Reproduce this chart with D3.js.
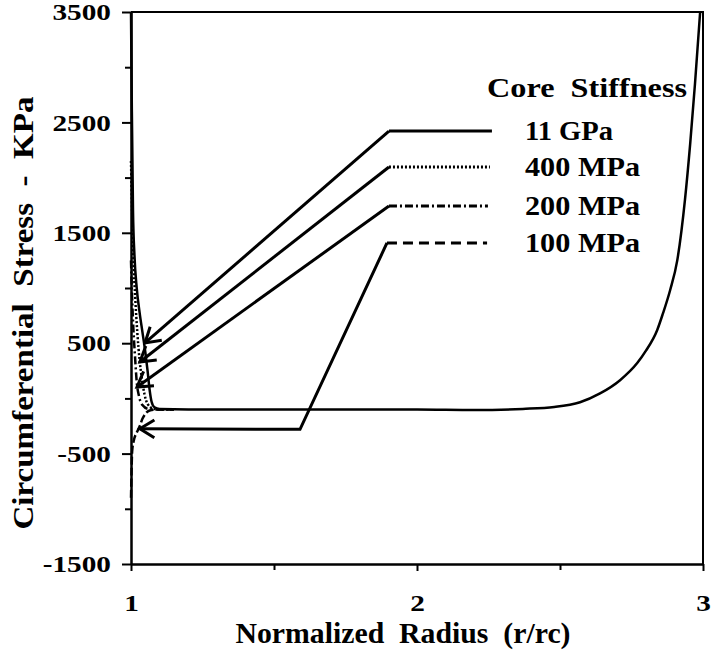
<html>
    <head>
        <meta charset="utf-8">
        <script src="https://d3js.org/d3.v7.min.js"></script>
        <style>
            body { margin: 0; background: #fff; }
            .axis path, .axis line { stroke: #000; stroke-width: 2px; }
            .curve { fill: none; stroke: #000; stroke-width: 2.5px; stroke-linejoin: round; }
            .leader { fill: none; stroke: #000; stroke-width: 3px; }
        </style>
    </head>
    <body>
        <script>
            // tick values
            var xMajor = [1, 2, 3],
                xMinor = [1.5, 2.5],
                yMajor = [3500, 2500, 1500, 500, -500, -1500],
                yMinor = [3000, 2000, 1000, 0, -1000];

            // legend
            var stiffness = ["11 GPa", "400 MPa", "200 MPa", "100 MPa"];
            var dashes = [null, "2,2", "8,3,2,3", "10,6"];

            // stress curves [r/rc, kPa]
            var curve11GPa = [[1.000,3500],[1.003,2600],[1.007,1700],[1.012,1300],[1.02,1000],[1.03,780],
                [1.04,600],[1.05,420],[1.058,250],[1.065,80],[1.072,-30],[1.082,-80],[1.1,-95],[1.3,-100],
                [1.6,-100],[2.0,-100],[2.2,-105],[2.37,-95],[2.48,-78],[2.57,-35],[2.64,45],[2.71,165],
                [2.77,320],[2.8,430],[2.84,620],[2.86,770],[2.885,980],[2.91,1250],[2.937,1800],
                [2.955,2300],[2.972,2850],[2.99,3500]];
            var curve400MPa = [[1.0,2150],[1.004,1700],[1.008,1300],[1.015,900],[1.022,600],[1.03,350],
                [1.038,180],[1.047,40],[1.058,-50],[1.075,-90],[1.1,-100],[1.15,-100]];
            var curve200MPa = [[1.0,1250],[1.004,900],[1.008,650],[1.014,380],[1.02,150],[1.028,20],
                [1.04,-60],[1.06,-95],[1.09,-100],[1.15,-100]];
            var curve100MPa = [[1.0,-900],[1.002,-650],[1.004,-480],[1.01,-380],[1.02,-310],[1.03,-255],
                [1.04,-185],[1.05,-140],[1.065,-110],[1.09,-100],[1.15,-100]];

            // legend leaders: horizontal key segment, then line to arrow tip
            var keySegs = [
                [[1.902,2422],[2.262,2422]],
                [[1.902,2096],[2.255,2096]],
                [[1.902,1743],[2.248,1743]],
                [[1.895,1408],[2.245,1408]]
            ];
            var leaders = [
                [[1.902,2422],[1.049,502]],
                [[1.902,2096],[1.031,330]],
                [[1.902,1743],[1.021,103]],
                [[1.895,1408],[1.591,-280],[1.031,-275]]
            ];

            var width = 712, height = 660;
            var x = d3.scaleLinear().domain([1, 3]).range([131, 703]);
            var y = d3.scaleLinear().domain([-1500, 3500]).range([564, 12]);

            var svg = d3.select("body").append("svg")
                .attr("width", width)
                .attr("height", height)
                .attr("font-family", "Liberation Serif")
                .attr("font-weight", "bold");

            var line = d3.line()
                .x(function(d) { return x(d[0]); })
                .y(function(d) { return y(d[1]); });
            var smooth = d3.line()
                .curve(d3.curveMonotoneX)
                .x(function(d) { return x(d[0]); })
                .y(function(d) { return y(d[1]); });

            var fmt = function(d) { return String(d); };
            var sp = "\u00a0";

            function label(sel, size) {
                return sel.attr("font-family", "Liberation Serif")
                    .attr("font-weight", "bold")
                    .attr("font-size", size)
                    .attr("fill", "#000");
            }

            // frame top / right
            svg.append("path")
                .attr("d", "M" + x(1) + "," + y(3500) + "H" + x(3) + "V" + y(-1500))
                .attr("fill", "none").attr("stroke", "#000").attr("stroke-width", 2);

            // y axis
            var yAx = svg.append("g").attr("class", "axis")
                .attr("transform", "translate(" + x(1) + ",0)")
                .call(d3.axisLeft(y).tickValues(yMajor).tickSize(9).tickPadding(14).tickSizeOuter(0).tickFormat(fmt));
            yAx.attr("font-family", "Liberation Serif");
            label(yAx.selectAll("text"), 24)
                .attr("x", -20 / 1.22)
                .attr("transform", "scale(1.22,1)");
            svg.append("g").attr("class", "axis")
                .attr("transform", "translate(" + x(1) + ",0)")
                .call(d3.axisLeft(y).tickValues(yMinor).tickSize(6).tickFormat("").tickSizeOuter(0));

            // x axis
            var xAx = svg.append("g").attr("class", "axis")
                .attr("transform", "translate(0," + y(-1500) + ")")
                .call(d3.axisBottom(x).tickValues(xMajor).tickSize(7).tickPadding(23).tickSizeOuter(0).tickFormat(fmt));
            xAx.attr("font-family", "Liberation Serif");
            label(xAx.selectAll("text"), 24)
                .attr("transform", "scale(1.22,1)");
            svg.append("g").attr("class", "axis")
                .attr("transform", "translate(0," + y(-1500) + ")")
                .call(d3.axisBottom(x).tickValues(xMinor).tickSize(6).tickFormat("").tickSizeOuter(0));

            // curves
            var curves = [curve11GPa, curve400MPa, curve200MPa, curve100MPa];
            curves.forEach(function(c, i) {
                svg.append("path")
                    .datum(c)
                    .attr("class", "curve")
                    .attr("stroke-dasharray", i == 3 ? "8,3" : dashes[i])
                    .attr("d", smooth);
            });

            // legend key segments and leader arrows
            keySegs.forEach(function(s, i) {
                svg.append("path")
                    .datum(s)
                    .attr("class", "leader")
                    .attr("stroke-width", i == 0 ? 3 : 2.5)
                    .attr("stroke-dasharray", dashes[i])
                    .attr("d", line);
            });
            leaders.forEach(function(s, i) {
                svg.append("path")
                    .datum(s)
                    .attr("class", "leader")
                    .attr("stroke-width", i == 3 ? 2 : 3)
                    .attr("d", line);

                // open arrow head at the tip
                var n = s.length,
                    tx = x(s[n - 1][0]), ty = y(s[n - 1][1]),
                    px = x(s[n - 2][0]), py = y(s[n - 2][1]),
                    a = Math.atan2(py - ty, px - tx), len = 17, spread = 0.55;
                svg.append("path")
                    .attr("class", "leader")
                    .attr("stroke-width", 3)
                    .attr("d", "M" + (tx + len * Math.cos(a + spread)) + "," + (ty + len * Math.sin(a + spread)) +
                        "L" + tx + "," + ty +
                        "L" + (tx + len * Math.cos(a - spread)) + "," + (ty + len * Math.sin(a - spread)));
            });

            // legend text
            label(svg.append("text"), 27)
                .attr("x", 487).attr("y", 97)
                .attr("textLength", 200).attr("lengthAdjust", "spacingAndGlyphs")
                .text("Core" + sp + " Stiffness");
            var labelW = [88, 115, 115, 115];
            stiffness.forEach(function(s, i) {
                label(svg.append("text"), 27)
                    .attr("x", 525).attr("y", y(keySegs[i][0][1]) + 9)
                    .attr("textLength", labelW[i]).attr("lengthAdjust", "spacingAndGlyphs")
                    .text(s);
            });

            // axis titles
            label(svg.append("text"), 29)
                .attr("x", 403).attr("y", 643)
                .attr("text-anchor", "middle")
                .attr("textLength", 335).attr("lengthAdjust", "spacingAndGlyphs")
                .text("Normalized" + sp + " Radius" + sp + " (r/rc)");
            label(svg.append("text"), 29)
                .attr("transform", "translate(33,313) rotate(-90)")
                .attr("text-anchor", "middle")
                .attr("textLength", 433).attr("lengthAdjust", "spacingAndGlyphs")
                .text("Circumferential" + sp + " Stress" + sp + " -" + sp + " KPa");
        </script>
    </body>
</html>
